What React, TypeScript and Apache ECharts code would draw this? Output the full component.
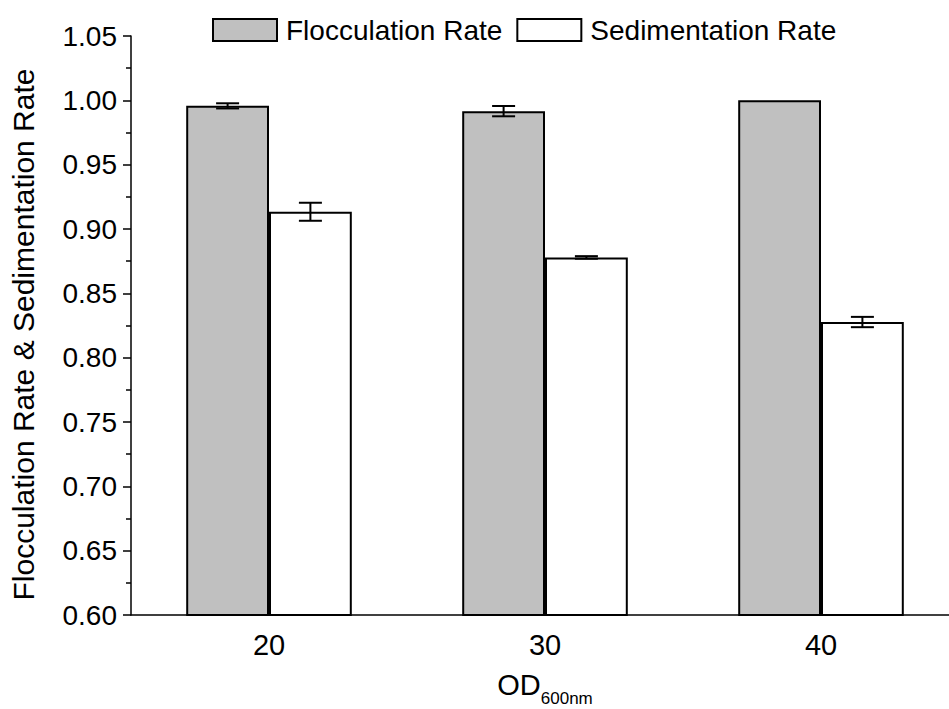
import React, { useEffect, useRef } from "react";
import * as echarts from "echarts";

const categories = ["20", "30", "40"];
const flocculation = [0.9957, 0.9916, 1.0];
const flocculationErr = [0.002, 0.004, 0];
const sedimentation = [0.9134, 0.8779, 0.8277];
const sedimentationErr = [0.007, 0.001, 0.004];
const yTicks = { min: 0.6, max: 1.05, interval: 0.05 };

const FONT = "Liberation Sans, Arial, sans-serif";

// Error bars drawn on top of each bar (skipped where the deviation is zero)
function errorSeries(values: number[], errs: number[], offsetFrac: number) {
  return {
    type: "custom",
    xAxisIndex: 0,
    yAxisIndex: 0,
    silent: true,
    z: 10,
    data: values.map((v, i) => [i, v, errs[i]]),
    renderItem: (params: any, api: any) => {
      const idx = api.value(0);
      const v = api.value(1);
      const e = api.value(2);
      if (!e) return null;
      const band = api.size([1, 0])[0];
      const center = api.coord([idx, v]);
      const x = center[0] + band * offsetFrac;
      const top = api.coord([idx, v + e])[1];
      const bot = api.coord([idx, v - e])[1];
      const half = 11.5;
      const style = { stroke: "#000", lineWidth: 2 };
      return {
        type: "group",
        children: [
          { type: "line", shape: { x1: x, y1: top, x2: x, y2: bot }, style },
          { type: "line", shape: { x1: x - half, y1: top, x2: x + half, y2: top }, style },
          { type: "line", shape: { x1: x - half, y1: bot, x2: x + half, y2: bot }, style },
        ],
      };
    },
  };
}

export default function App() {
  const ref = useRef<HTMLDivElement>(null);

  useEffect(() => {
    if (!ref.current) return;
    const chart = echarts.init(ref.current, undefined, { renderer: "svg" });
    chart.setOption({
      animation: false,
      backgroundColor: "#fff",
      textStyle: { fontFamily: FONT },
      legend: {
        left: 207,
        top: 11,
        itemWidth: 64,
        itemHeight: 22,
        itemGap: 14,
        icon: "rect",
        textStyle: { fontSize: 28, color: "#000", fontFamily: FONT, padding: [0, 0, 0, 4] },
        data: ["Flocculation Rate", "Sedimentation Rate"],
      },
      grid: { left: 131, top: 36, width: 828, height: 579, outerBoundsMode: "none" },
      xAxis: [
        {
          type: "category",
          data: categories,
          name: "{a|OD}{b|600nm}",
          nameLocation: "middle",
          nameGap: 55,
          nameTextStyle: {
            rich: {
              a: { fontSize: 29, lineHeight: 29, color: "#000", fontFamily: FONT, verticalAlign: "top" },
              b: { fontSize: 17, lineHeight: 17, color: "#000", fontFamily: FONT, verticalAlign: "top", padding: [20, 0, 0, 0] },
            },
          },
          axisLine: { lineStyle: { color: "#000", width: 1.5 } },
          axisTick: { alignWithLabel: true, length: 8, lineStyle: { color: "#000", width: 1.5 } },
          axisLabel: { fontSize: 29, color: "#000", fontFamily: FONT, margin: 15 },
          splitLine: { show: false },
        },
        {
          type: "category",
          data: categories,
          position: "bottom",
          axisLine: { show: false },
          axisTick: { length: 5, lineStyle: { color: "#000", width: 1.5 } },
          axisLabel: { show: false },
          splitLine: { show: false },
        },
      ],
      yAxis: {
        type: "value",
        min: yTicks.min,
        max: yTicks.max,
        interval: yTicks.interval,
        name: "Flocculation Rate & Sedimentation Rate",
        nameLocation: "middle",
        nameGap: 93,
        nameTextStyle: { fontSize: 30, color: "#000", fontFamily: FONT, padding: [0, 18, 0, 0] },
        axisLine: { show: true, lineStyle: { color: "#000", width: 1.5 } },
        axisTick: { show: true, length: 8, lineStyle: { color: "#000", width: 1.5 } },
        minorTick: { show: true, splitNumber: 2, length: 5, lineStyle: { color: "#000", width: 1.5 } },
        axisLabel: {
          fontSize: 28,
          color: "#000",
          fontFamily: FONT,
          margin: 14,
          formatter: (v: number) => v.toFixed(2),
        },
        splitLine: { show: false },
      },
      series: [
        {
          name: "Flocculation Rate",
          type: "bar",
          xAxisIndex: 0,
          data: flocculation,
          barWidth: "30%",
          barGap: "0%",
          itemStyle: { color: "#c0c0c0", borderColor: "#000", borderWidth: 2 },
        },
        {
          name: "Sedimentation Rate",
          type: "bar",
          xAxisIndex: 0,
          data: sedimentation,
          barWidth: "30%",
          barGap: "0%",
          itemStyle: { color: "#fff", borderColor: "#000", borderWidth: 2 },
        },
        errorSeries(flocculation, flocculationErr, -0.15),
        errorSeries(sedimentation, sedimentationErr, 0.15),
      ],
    });
    return () => chart.dispose();
  }, []);

  return (
    <div style={{ position: "absolute", left: 0, top: 0, width: 949, height: 709, overflow: "hidden", background: "#fff" }}>
      <div ref={ref} style={{ width: 949, height: 709 }} />
    </div>
  );
}
